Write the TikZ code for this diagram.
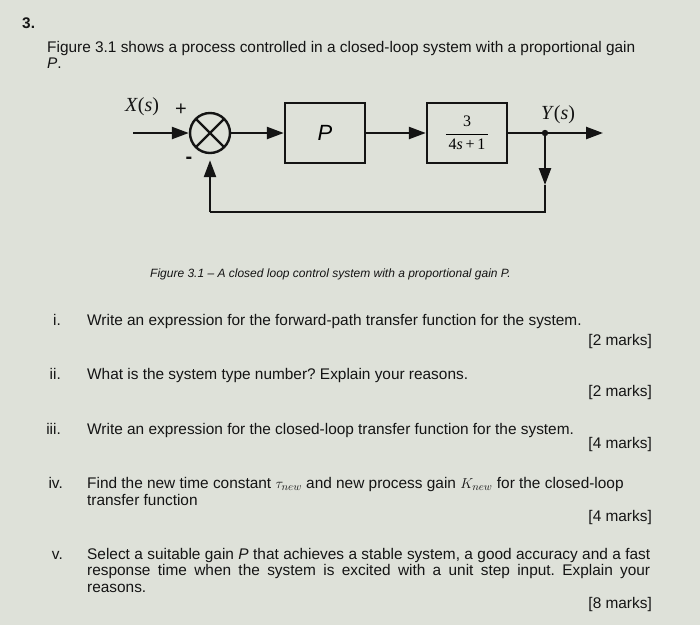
\documentclass[tikz,border=0pt]{standalone}
\usepackage{fontspec}
\setmainfont{Liberation Sans}
\newfontfamily\serifsym{Liberation Serif}
\usepackage{tikz}
\usetikzlibrary{arrows.meta,positioning}
\definecolor{paper}{RGB}{222,225,217}
\definecolor{ink}{RGB}{20,20,20}
\newcommand{\sig}[1]{{\serifsym\textit{#1}(\textit{s})}}
\frenchspacing

\tikzset{
  txt/.style={anchor=base west,inner sep=0pt,text=ink,font=\fontsize{15.4}{18}\selectfont},
  num/.style={anchor=base east,inner sep=0pt,text=ink,font=\fontsize{15.4}{18}\selectfont},
  marks/.style={anchor=base east,inner sep=0pt,text=ink,font=\fontsize{15.4}{18}\selectfont},
  blockbox/.style={draw=ink,line width=2.4pt,minimum width=80pt,minimum height=60pt,inner sep=0pt},
  sumjunc/.style={draw=ink,circle,line width=2.4pt,minimum size=40pt,inner sep=0pt,
    path picture={\draw[ink,line width=2.2pt]
      (path picture bounding box.north west) -- (path picture bounding box.south east)
      (path picture bounding box.north east) -- (path picture bounding box.south west);}},
  wire/.style={draw=ink,line width=2.4pt},
  flow/.style={wire,-{Triangle[length=17pt,width=12pt]}}
}

\begin{document}
\begin{tikzpicture}[x=1pt,y=-1pt]
    \useasboundingbox (0,0) rectangle (700,625);
    \fill[paper] (0,0) rectangle (700,625);

    % question heading
    \node[txt,font=\fontsize{15.4}{18}\selectfont\bfseries] (qno) at (22,28) {3.};
    \node[txt] (intro1) at (47,52) {Figure 3.1 shows a process controlled in a closed-loop system with a proportional gain};
    \node[txt] (intro2) at (47,68) {\textit{P}.};

    % block diagram
    \coordinate (xin) at (133,133);
    \node[sumjunc] (sum) at (210,133) {};
    \node[blockbox] (gain) at (325,133) {\fontsize{22}{24}\selectfont\textit{P}};
    \node[blockbox] (plant) at (467,133) {\serifsym\fontsize{16}{18}\selectfont
        $\displaystyle\frac{\mbox{3}\rule[-5pt]{0pt}{5pt}}{\,\mbox{4\textit{s}\,+\,1}\,}$};
    \coordinate (branch) at (545,133);
    \coordinate (yout) at (603,133);
    \coordinate (fbarrow) at (545,185);
    \coordinate (fbright) at (545,212);
    \coordinate (fbleft) at (210,212);
    \node[text=ink,font=\fontsize{20}{22}\selectfont] (xlab) at (142,107) {\sig{X}};
    \node[text=ink,font=\fontsize{20}{22}\selectfont] (plus) at (181,110) {+};
    \node[text=ink,font=\fontsize{20}{22}\selectfont\bfseries] (minus) at (189,160) {-};
    \node[text=ink,font=\fontsize{20}{22}\selectfont] (ylab) at (558,115) {\sig{Y}};

    \draw[flow] (xin) -- (sum);
    \draw[flow] (sum) -- (gain);
    \draw[flow] (gain) -- (plant);
    \draw[flow] (plant) -- (yout);
    \draw[flow] (branch) -- (fbarrow);
    \draw[wire,line join=miter] (fbarrow) -- (fbright) -- (fbleft);
    \draw[flow,shorten >=6pt] (fbleft) -- (sum.south);
    \fill[ink] (branch) circle (3.2pt);

    \node[txt,font=\fontsize{12}{14}\selectfont\itshape] (caption) at (150,277)
        {Figure 3.1 -- A closed loop control system with a proportional gain P.};

    % parts
    \node[num] (n1) at (61,325) {i.};
    \node[txt] (q1) at (87,325) {Write an expression for the forward-path transfer function for the system.};
    \node[marks] (m1) at (652,345) {[2 marks]};

    \node[num] (n2) at (61,379) {ii.};
    \node[txt] (q2) at (87,379) {What is the system type number? Explain your reasons.};
    \node[marks] (m2) at (652,396) {[2 marks]};

    \node[num] (n3) at (61,434) {iii.};
    \node[txt] (q3) at (87,434) {Write an expression for the closed-loop transfer function for the system.};
    \node[marks] (m3) at (652,448) {[4 marks]};

    \node[num] (n4) at (63,488) {iv.};
    \node[txt] (q4a) at (87,488) {Find the new time constant $\tau_{new}$ and new process gain $K_{new}$ for the closed-loop};
    \node[txt] (q4b) at (87,505) {transfer function};
    \node[marks] (m4) at (652,521) {[4 marks]};

    \node[num] (n5) at (63,559) {v.};
    \node[txt] (q5a) at (87,559) {\makebox[563pt][s]{Select a suitable gain \textit{P} that achieves a stable system, a good accuracy and a fast}};
    \node[txt] (q5b) at (87,575) {\makebox[563pt][s]{response time when the system is excited with a unit step input. Explain your}};
    \node[txt] (q5c) at (87,592) {reasons.};
    \node[marks] (m5) at (652,608) {[8 marks]};
\end{tikzpicture}
\end{document}
